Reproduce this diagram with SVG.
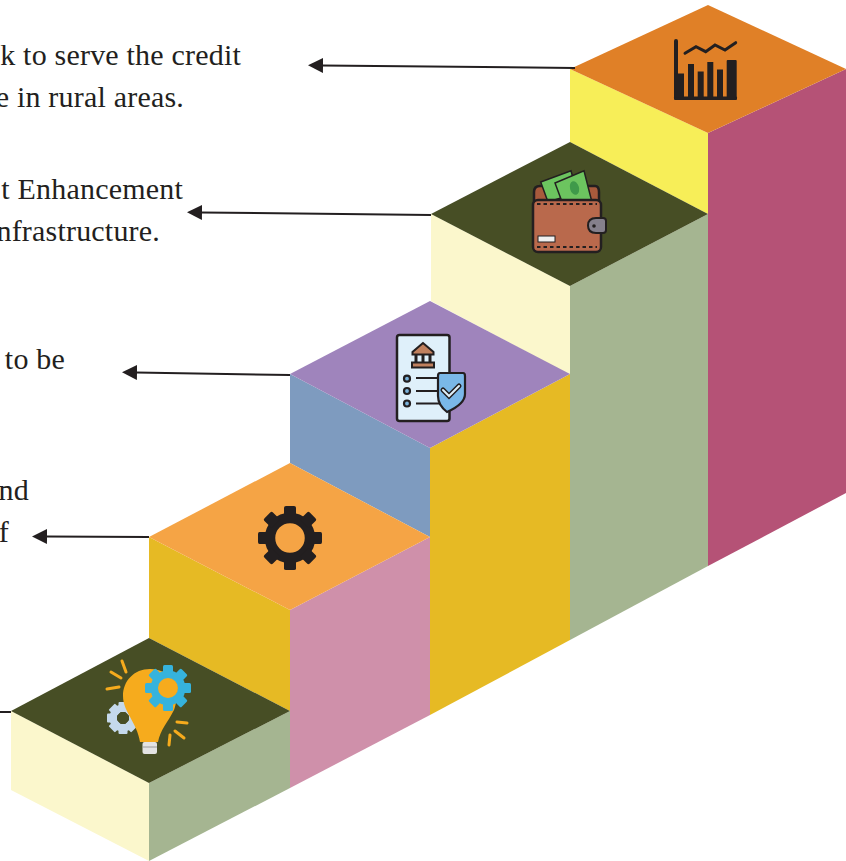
<svg xmlns="http://www.w3.org/2000/svg" width="846" height="861" viewBox="0 0 846 861">
<style>
text{font-family:"Liberation Serif","Times New Roman",serif;font-size:30px;letter-spacing:0.2px;fill:#231f20;text-anchor:end}
.c{fill:none;stroke:#231f20;stroke-width:2}
.k{fill:#231f20}
.o{fill:none;stroke:#231f20;stroke-linecap:round}
.ray{stroke:#f6ab1d;stroke-width:3;stroke-linecap:round;fill:none}
</style>
<defs>
<marker id="a" markerUnits="userSpaceOnUse" markerWidth="16" markerHeight="16" refX="1" refY="8" orient="auto"><path d="M0 0.500V15.500L15 8Z" fill="#231f20"/></marker>
<path id="t2" d="M284 507.500Q284 506 286 506H294Q296 506 296 507.500V518H284Z"/>
<rect id="t1" x="163" y="665" width="10" height="12" rx="1.500"/>
<rect id="t0" x="118.500" y="702" width="9" height="10" rx="1"/>
</defs>
<rect width="846" height="861" fill="#fff"/>
<g id="step5">
<path d="M570 69L708 133V214L570 142Z" fill="#f7ee58"/>
<path d="M708 133L846 69V493L708 566Z" fill="#b55276"/>
<path d="M570 69L708 5L846 69L708 133Z" fill="#e08027"/>
<g id="icon5">
<rect x="674" y="39" width="4" height="60" rx="2" class="k"/>
<rect x="674" y="96.500" width="63" height="3.500" rx="1" class="k"/>
<rect x="674" y="73.500" width="10" height="24" class="k"/>
<rect x="688" y="64" width="6" height="33" class="k"/>
<rect x="697.700" y="71.500" width="6" height="26" class="k"/>
<rect x="707.300" y="62" width="6" height="35" class="k"/>
<rect x="717" y="69.500" width="6" height="28" class="k"/>
<rect x="726.700" y="60" width="10" height="38" rx="1" class="k"/>
<path d="M685 53.300L696 46.700L705.700 51.700L715 45L725 50L735.700 42.700" class="o" stroke-width="3"/>
</g>
</g>
<g id="step4">
<path d="M431 214L570 286V375L431 301Z" fill="#fbf7cc"/>
<path d="M570 286L708 214V566L570 640Z" fill="#a5b591"/>
<path d="M431 214L570 142L708 214L570 286Z" fill="#474e25"/>
<g id="icon4">
<path d="M534 202V192Q534 186 540 186H595Q599 186 599 192V202Z" fill="#a85a3c" stroke="#231f20" stroke-width="2.500"/>
<path d="M540.700 182L571 170.700L577 193L548 202Z" fill="#6cc45f" stroke="#231f20" stroke-width="1.500"/>
<path d="M555 183L584 170.700L591.700 201H561.700Z" fill="#6cc45f" stroke="#231f20" stroke-width="1.500"/>
<ellipse cx="574.500" cy="188" rx="4.500" ry="7" fill="#3f9a4a" transform="rotate(-15 574.500 188)"/>
<rect x="533" y="200" width="68" height="52" rx="5" fill="#b9694c" stroke="#231f20" stroke-width="2.500"/>
<path d="M537 204H597M537 247H597" stroke="#231f20" stroke-width="1.800" stroke-dasharray="3.500 3" fill="none"/>
<rect x="538" y="236" width="17" height="6" fill="#efefef" stroke="#231f20"/>
<path d="M596 218H603Q606 218 606 221V230Q606 233 603 233H596Q588 233 588 225.500Q588 218 596 218Z" fill="#85808c" stroke="#231f20" stroke-width="2"/>
<circle cx="594" cy="226" r="1.800" fill="#231f20"/>
</g>
</g>
<g id="step3">
<path d="M290 374L430 448V537L290 463Z" fill="#7e9bbf"/>
<path d="M430 448L570 374V640L430 715Z" fill="#e6ba24"/>
<path d="M290 374L430 301L570 374L430 448Z" fill="#9f84bc"/>
<g id="icon3">
<rect x="397" y="335" width="52.500" height="86" rx="2.500" fill="#dff0fa" stroke="#231f20" stroke-width="2.500"/>
<path d="M423 343L412.500 352V354.500H433.500V352Z" fill="#c0805e" stroke="#231f20" stroke-width="2"/>
<path d="M416 354.500V362.500M423 354.500V362.500M430 354.500V362.500" stroke="#231f20" stroke-width="3"/>
<rect x="412" y="362.500" width="22" height="5" fill="#c0805e" stroke="#231f20" stroke-width="2"/>
<circle cx="407" cy="378.700" r="3" fill="#7ab3dc" stroke="#231f20" stroke-width="2.200"/>
<circle cx="407" cy="391" r="3" fill="#7ab3dc" stroke="#231f20" stroke-width="2.200"/>
<circle cx="407" cy="403.500" r="3" fill="#7ab3dc" stroke="#231f20" stroke-width="2.200"/>
<path d="M416 378H438M416 391H438M416 403.500H440" stroke="#231f20" stroke-width="1.800"/>
<path d="M440 373H463Q465 373 465 376V394Q465 404 447 412Q438 405 438 396V376Q438 373 440 373Z" fill="#7ab8e8" stroke="#231f20" stroke-width="2.200"/>
<path d="M443 390L449 396L459 386" fill="none" stroke="#231f20" stroke-width="5" stroke-linecap="round"/>
<path d="M443 390L449 396L459 386" fill="none" stroke="#dff0fa" stroke-width="2" stroke-linecap="round"/>
</g>
</g>
<g id="step2">
<path d="M149 537L290 610V711L149 638Z" fill="#e6ba24"/>
<path d="M290 610L430 537V715L290 788Z" fill="#cf90aa"/>
<path d="M149 537L290 463L430 537L290 610Z" fill="#f5a445"/>
<g id="icon2" class="k">
<circle cx="290" cy="538" r="20" fill="none" stroke="#231f20" stroke-width="10.500"/>
<use href="#t2"/>
<use href="#t2" transform="rotate(45 290 538)"/>
<use href="#t2" transform="rotate(90 290 538)"/>
<use href="#t2" transform="rotate(135 290 538)"/>
<use href="#t2" transform="rotate(180 290 538)"/>
<use href="#t2" transform="rotate(225 290 538)"/>
<use href="#t2" transform="rotate(270 290 538)"/>
<use href="#t2" transform="rotate(315 290 538)"/>
</g>
</g>
<g id="step1">
<path d="M11 711L149 783V861L11 790Z" fill="#fbf7cc"/>
<path d="M149 783L290 711V788L149 861Z" fill="#a5b591"/>
<path d="M11 711L149 638L290 711L149 783Z" fill="#474e25"/>
<g id="icon1">
<g fill="#c5d9ec">
<circle cx="123" cy="718" r="10" fill="none" stroke="#c5d9ec" stroke-width="7"/>
<use href="#t0"/>
<use href="#t0" transform="rotate(45 123 718)"/>
<use href="#t0" transform="rotate(90 123 718)"/>
<use href="#t0" transform="rotate(135 123 718)"/>
<use href="#t0" transform="rotate(180 123 718)"/>
<use href="#t0" transform="rotate(225 123 718)"/>
<use href="#t0" transform="rotate(270 123 718)"/>
<use href="#t0" transform="rotate(315 123 718)"/>
</g>
<path d="M150 669C134 669 123 681 123 696C123 712 137 722 140 742H158C160 730 168 722 174 710C180 696 176 669 150 669Z" fill="#f6ab1d"/>
<rect x="142.500" y="742" width="14.500" height="12" rx="2" fill="#e3e3e3"/>
<path d="M143 747H157" stroke="#9a9a9a" stroke-width="1"/>
<g fill="#36b3dd">
<circle cx="168" cy="688" r="13.500" fill="none" stroke="#36b3dd" stroke-width="8"/>
<use href="#t1"/>
<use href="#t1" transform="rotate(45 168 688)"/>
<use href="#t1" transform="rotate(90 168 688)"/>
<use href="#t1" transform="rotate(135 168 688)"/>
<use href="#t1" transform="rotate(180 168 688)"/>
<use href="#t1" transform="rotate(225 168 688)"/>
<use href="#t1" transform="rotate(270 168 688)"/>
<use href="#t1" transform="rotate(315 168 688)"/>
</g>
<circle cx="168" cy="688" r="10" fill="#f6ab1d"/>
<path d="M122 661L126 672M111 672L121 678M107 689L119 687M177 722L187 723M175 731L184 738M170 735L169 745" class="ray"/>
</g>
</g>
<g id="connectors">
<path class="c" d="M575 68L322 65.500" marker-end="url(#a)"/>
<path class="c" d="M431 215L201 212.500" marker-end="url(#a)"/>
<path class="c" d="M290 375L136 372.500" marker-end="url(#a)"/>
<path class="c" d="M149 537L46 536.500" marker-end="url(#a)"/>
<path class="c" d="M0 712H11"/>
</g>
<g id="labels">
<text x="241" y="65">k to serve the credit</text>
<text x="184" y="107">e in rural areas.</text>
<text x="183" y="199">t Enhancement</text>
<text x="160" y="241">nfrastructure.</text>
<text x="65" y="369">to be</text>
<text x="29" y="500">nd</text>
<text x="9" y="542">f</text>
</g>
</svg>
